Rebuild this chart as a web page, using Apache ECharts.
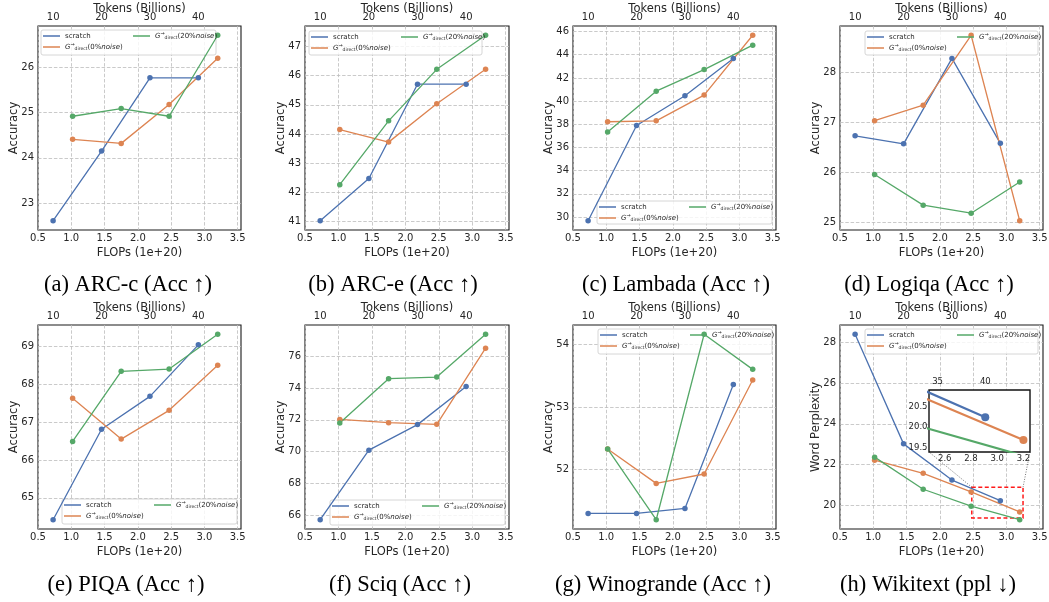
<!DOCTYPE html>
<html>
<head>
<meta charset="utf-8">
<script src="https://cdn.jsdelivr.net/npm/echarts@6/dist/echarts.min.js"></script>
<style>
  html, body { margin: 0; padding: 0; background: #fff; }
  #chart { width: 1049px; height: 602px; }
</style>
</head>
<body>
<div id="chart"></div>
<script>
// x positions (FLOPs, 1e+20) -- scratch runs at 10/20/30/40B tokens, grown models later
var flopsScratch = [0.727, 1.455, 2.182, 2.909];
var flopsGrown = [1.02, 1.75, 2.47, 3.2];
var tokensPerFlop = 13.75;
var flopTicks = [0.5, 1.0, 1.5, 2.0, 2.5, 3.0, 3.5];
var tokenTicks = [10, 20, 30, 40];

// accuracy / perplexity per benchmark
var arcCScratch = [22.61, 24.15, 25.77, 25.77];
var arcCGrow0 = [24.41, 24.32, 25.18, 26.2];
var arcCGrow20 = [24.92, 25.09, 24.92, 26.71];
var arcCTicks = [23, 24, 25, 26];

var arcEScratch = [41.02, 42.47, 45.71, 45.71];
var arcEGrow0 = [44.15, 43.72, 45.04, 46.22];
var arcEGrow20 = [42.26, 44.45, 46.22, 47.39];
var arcETicks = [41, 42, 43, 44, 45, 46, 47];

var lambadaScratch = [29.68, 37.9, 40.46, 43.68];
var lambadaGrow0 = [38.22, 38.3, 40.52, 45.68];
var lambadaGrow20 = [37.33, 40.86, 42.72, 44.83];
var lambadaTicks = [30, 32, 34, 36, 38, 40, 42, 44, 46];

var logiqaScratch = [26.73, 26.57, 28.27, 26.58];
var logiqaGrow0 = [27.03, 27.34, 28.73, 25.04];
var logiqaGrow20 = [25.96, 25.35, 25.19, 25.81];
var logiqaTicks = [25, 26, 27, 28];

var piqaScratch = [64.42, 66.81, 67.68, 69.04];
var piqaGrow0 = [67.63, 66.55, 67.31, 68.5];
var piqaGrow20 = [66.49, 68.34, 68.4, 69.32];
var piqaTicks = [65, 66, 67, 68, 69];

var sciqScratch = [65.7, 70.09, 71.7, 74.1];
var sciqGrow0 = [72.03, 71.82, 71.72, 76.52];
var sciqGrow20 = [71.8, 74.6, 74.7, 77.4];
var sciqTicks = [66, 68, 70, 72, 74, 76];

var winoScratch = [51.3, 51.3, 51.38, 53.36];
var winoGrow0 = [52.33, 51.78, 51.93, 53.43];
var winoGrow20 = [52.33, 51.2, 54.16, 53.6];
var winoTicks = [52, 53, 54];

var wikiScratch = [28.38, 23.02, 21.25, 20.24];
var wikiGrow0 = [22.22, 21.58, 20.67, 19.69];
var wikiGrow20 = [22.37, 20.8, 19.97, 19.31];
var wikiTicks = [20, 22, 24, 26, 28];

// zoomed inset of wikitext
var insetX = [2.48, 3.25];
var insetY = [19.4, 20.9];
var insetXTicks = [2.6, 2.8, 3.0, 3.2];
var insetYTicks = [19.5, 20.0, 20.5];
var insetTokenTicks = [35, 40];

var seriesNames = ['scratch', 'G_direct(0%noise)', 'G_direct(20%noise)'];
var colors = ['#4c72b0', '#dd8452', '#55a868'];

var panels = [
  { s: arcCScratch, g0: arcCGrow0, g20: arcCGrow20, ticks: arcCTicks, yName: 'Accuracy', caption: '(a) ARC-c (Acc \u2191)' },
  { s: arcEScratch, g0: arcEGrow0, g20: arcEGrow20, ticks: arcETicks, yName: 'Accuracy', caption: '(b) ARC-e (Acc \u2191)' },
  { s: lambadaScratch, g0: lambadaGrow0, g20: lambadaGrow20, ticks: lambadaTicks, yName: 'Accuracy', caption: '(c) Lambada (Acc \u2191)' },
  { s: logiqaScratch, g0: logiqaGrow0, g20: logiqaGrow20, ticks: logiqaTicks, yName: 'Accuracy', caption: '(d) Logiqa (Acc \u2191)' },
  { s: piqaScratch, g0: piqaGrow0, g20: piqaGrow20, ticks: piqaTicks, yName: 'Accuracy', caption: '(e) PIQA (Acc \u2191)' },
  { s: sciqScratch, g0: sciqGrow0, g20: sciqGrow20, ticks: sciqTicks, yName: 'Accuracy', caption: '(f) Sciq (Acc \u2191)' },
  { s: winoScratch, g0: winoGrow0, g20: winoGrow20, ticks: winoTicks, yName: 'Accuracy', caption: '(g) Winogrande (Acc \u2191)' },
  { s: wikiScratch, g0: wikiGrow0, g20: wikiGrow20, ticks: wikiTicks, yName: 'Word Perplexity', caption: '(h) Wikitext (ppl \u2193)' }
];

// layout (px): plot box [left, top, width, height], legend box [left, top, right, bottom], caption centre
var gridBoxes = [
  [38, 26, 203, 204], [305, 26, 204, 204], [573, 26, 203, 204], [840, 26, 203, 204],
  [38, 325, 203, 204], [305, 325, 204, 204], [573, 325, 203, 204], [840, 325, 203, 204]
];
var legendBoxes = [
  [41, 30, 216, 55], [309, 31, 482, 55], [597, 201, 772, 224], [865, 31, 1038, 55],
  [62, 499, 237, 524], [330, 500, 505, 525], [598, 329, 772, 354], [865, 329, 1038, 354]
];
var captionPos = [
  [128, 285], [393, 285], [676, 285], [929, 285],
  [126, 585], [400, 585], [663, 585], [928, 585]
];
var insetBox = [929, 390, 101, 62];

var FONT = 'DejaVu Sans';
var ink = '#262626';
var gridDash = { type: [3.5, 1.8], color: '#bdbdbd', width: 0.8 };

function legendLabel(name) {
  if (name === 'scratch') return name;
  var pct = name.indexOf('20%') >= 0 ? '20' : '0';
  return '{it|G}{sup|\u2192}{sub|direct}{n|(' + pct + '%}{it|noise}{n|)}';
}
var legendText = {
  fontFamily: FONT, fontSize: 7, color: ink, lineHeight: 9,
  rich: {
    it: { fontFamily: FONT, fontStyle: 'italic', fontSize: 7, color: ink, lineHeight: 9 },
    n: { fontFamily: FONT, fontSize: 7, color: ink, lineHeight: 9 },
    sup: { fontFamily: FONT, fontSize: 5, color: ink, verticalAlign: 'top' },
    sub: { fontFamily: FONT, fontSize: 4.5, color: ink, verticalAlign: 'bottom' }
  }
};

var grids = [], xAxes = [], yAxes = [], series = [], legends = [], graphics = [];

panels.forEach(function (p, i) {
  var b = gridBoxes[i];
  grids.push({ left: b[0], top: b[1], width: b[2], height: b[3], show: true,
    backgroundColor: '#fff', borderColor: '#1a1a1a', borderWidth: 1.1,
    containLabel: false, outerBoundsMode: 'none' });

  var all = p.s.concat(p.g0, p.g20);
  var lo = Math.min.apply(null, all), hi = Math.max.apply(null, all);
  var pad = (hi - lo) * 0.05;

  xAxes.push({
    type: 'value', gridIndex: i, position: 'bottom', min: 0.5, max: 3.55,
    axisLine: { show: false },
    axisTick: { show: false, customValues: flopTicks },
    axisLabel: { customValues: flopTicks, margin: 3, fontSize: 10, color: ink, fontFamily: FONT,
      formatter: function (v) { return v.toFixed(1); } },
    splitLine: { show: true, lineStyle: gridDash },
    name: 'FLOPs (1e+20)', nameLocation: 'middle', nameGap: 17, nameMoveOverlap: false,
    nameTextStyle: { fontSize: 11.5, color: ink, fontFamily: FONT }
  });
  xAxes.push({
    type: 'value', gridIndex: i, position: 'top',
    min: 0.5 * tokensPerFlop, max: 3.55 * tokensPerFlop,
    axisLine: { show: false },
    axisTick: { show: false, customValues: tokenTicks },
    axisLabel: { customValues: tokenTicks, margin: 3.5, fontSize: 10, color: ink, fontFamily: FONT },
    splitLine: { show: false },
    name: 'Tokens (Billions)', nameLocation: 'middle', nameGap: 11, nameMoveOverlap: false,
    nameTextStyle: { fontSize: 11.5, color: ink, fontFamily: FONT }
  });
  yAxes.push({
    type: 'value', gridIndex: i, min: lo - pad, max: hi + pad,
    axisLine: { show: false },
    axisTick: { show: false, customValues: p.ticks },
    axisLabel: { customValues: p.ticks, margin: 4, fontSize: 10, color: ink, fontFamily: FONT },
    splitLine: { show: true, lineStyle: gridDash },
    name: p.yName, nameLocation: 'middle', nameGap: 18, nameRotate: 90, nameMoveOverlap: false,
    nameTextStyle: { fontSize: 11.5, color: ink, fontFamily: FONT }
  });

  [p.s, p.g0, p.g20].forEach(function (ys, k) {
    var xs = k === 0 ? flopsScratch : flopsGrown;
    series.push({
      type: 'line', name: seriesNames[k], xAxisIndex: 2 * i, yAxisIndex: i,
      data: xs.map(function (x, j) { return [x, ys[j]]; }),
      symbol: 'circle', symbolSize: 5.5,
      lineStyle: { width: 1.3, color: colors[k] },
      itemStyle: { color: colors[k] },
      emphasis: { disabled: true }
    });
  });

  var lb = legendBoxes[i];
  graphics.push({ type: 'rect', z: 3, silent: true,
    shape: { x: lb[0], y: lb[1], width: lb[2] - lb[0], height: lb[3] - lb[1], r: 2 },
    style: { fill: 'rgba(255,255,255,0.8)', stroke: '#cccccc', lineWidth: 0.8 } });
  legends.push({ orient: 'vertical', left: lb[0] + 2, top: lb[1] + 1.5, padding: 0, itemGap: 2,
    itemWidth: 17, itemHeight: 1.5, icon: 'rect', selectedMode: false,
    data: [seriesNames[0], seriesNames[1]], formatter: legendLabel, textStyle: legendText });
  legends.push({ orient: 'vertical', left: lb[0] + 92, top: lb[1] + 1.5, padding: 0, itemGap: 2,
    itemWidth: 17, itemHeight: 1.5, icon: 'rect', selectedMode: false,
    data: [seriesNames[2]], formatter: legendLabel, textStyle: legendText });

  graphics.push({ type: 'text', x: captionPos[i][0], y: captionPos[i][1], silent: true,
    style: { text: p.caption, fontFamily: 'Liberation Serif', fontSize: 22.5, fill: '#000',
      align: 'center', verticalAlign: 'middle' } });
});

// red box on the wikitext panel
series[21].markArea = {
  silent: true, label: { show: false },
  itemStyle: { color: 'rgba(0,0,0,0)', borderColor: '#ff1a1a', borderWidth: 1.5, borderType: [4, 2.5] },
  data: [[{ coord: [insetX[0], insetY[1]] }, { coord: [insetX[1], insetY[0]] }]]
};

// inset
grids.push({ left: insetBox[0], top: insetBox[1], width: insetBox[2], height: insetBox[3], show: true,
  backgroundColor: '#fff', borderColor: '#111', borderWidth: 1.4, z: 10,
  containLabel: false, outerBoundsMode: 'none' });
xAxes.push({
  type: 'value', gridIndex: 8, position: 'bottom', min: insetX[0], max: insetX[1], z: 11,
  axisLine: { show: false }, axisTick: { show: false, customValues: insetXTicks },
  axisLabel: { customValues: insetXTicks, margin: 2.5, fontSize: 8.5, color: ink, fontFamily: FONT,
    formatter: function (v) { return v.toFixed(1); } },
  splitLine: { show: false }
});
xAxes.push({
  type: 'value', gridIndex: 8, position: 'top', z: 11,
  min: insetX[0] * tokensPerFlop, max: insetX[1] * tokensPerFlop,
  axisLine: { show: false }, axisTick: { show: false, customValues: insetTokenTicks },
  axisLabel: { customValues: insetTokenTicks, margin: 3.5, fontSize: 8.5, color: ink, fontFamily: FONT },
  splitLine: { show: false }
});
yAxes.push({
  type: 'value', gridIndex: 8, min: insetY[0], max: insetY[1], z: 11,
  axisLine: { show: false }, axisTick: { show: false, customValues: insetYTicks },
  axisLabel: { customValues: insetYTicks, margin: 1.5, fontSize: 8.5, color: ink, fontFamily: FONT,
    formatter: function (v) { return v.toFixed(1); } },
  splitLine: { show: false }
});
[wikiScratch, wikiGrow0, wikiGrow20].forEach(function (ys, k) {
  var xs = k === 0 ? flopsScratch : flopsGrown;
  series.push({
    type: 'line', name: seriesNames[k], xAxisIndex: 16, yAxisIndex: 8, z: 12, clip: true,
    data: xs.map(function (x, j) { return [x, ys[j]]; }),
    symbol: 'circle', symbolSize: 8,
    lineStyle: { width: 2.2, color: colors[k] },
    itemStyle: { color: colors[k] },
    emphasis: { disabled: true }
  });
});

var chart = echarts.init(document.getElementById('chart'), null, { renderer: 'canvas' });
chart.setOption({
  animation: false,
  backgroundColor: '#fff',
  textStyle: { fontFamily: FONT },
  grid: grids,
  xAxis: xAxes,
  yAxis: yAxes,
  legend: legends,
  series: series
});

// dotted connectors from the red box to the inset
var boxTL = chart.convertToPixel({ xAxisIndex: 14, yAxisIndex: 7 }, [insetX[0], insetY[1]]);
var boxTR = chart.convertToPixel({ xAxisIndex: 14, yAxisIndex: 7 }, [insetX[1], insetY[1]]);
var insBL = chart.convertToPixel({ xAxisIndex: 16, yAxisIndex: 8 }, [insetX[0], insetY[0]]);
var insBR = chart.convertToPixel({ xAxisIndex: 16, yAxisIndex: 8 }, [insetX[1], insetY[0]]);
[[boxTL, insBL], [boxTR, insBR]].forEach(function (pr) {
  graphics.push({ type: 'line', z: 9, silent: true,
    shape: { x1: pr[0][0], y1: pr[0][1], x2: pr[1][0], y2: pr[1][1] },
    style: { stroke: '#666', lineWidth: 0.9, lineDash: [1, 1.5] } });
});
chart.setOption({ graphic: graphics });
</script>
</body>
</html>
